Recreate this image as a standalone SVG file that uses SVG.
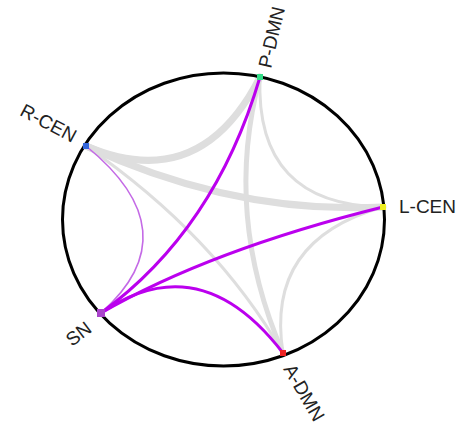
<svg xmlns="http://www.w3.org/2000/svg" width="462" height="432" viewBox="0 0 462 432">
<style>
.g{fill:none;stroke:#dedede;stroke-linecap:round}
.p{fill:none;stroke:#bb00ee;stroke-width:3;stroke-linecap:round}
.pt{fill:none;stroke:#c46ae6;stroke-width:1.6}
.lbl{font-family:"Liberation Sans",Arial,sans-serif;font-size:19px;fill:#222222}
</style>
<rect width="462" height="432" fill="#ffffff"/>
<g id="connectors">
<path class="g" stroke-width="7" d="M86,146 Q200,195 260,77"/>
<path class="g" stroke-width="7" d="M86,146 Q235,215 383,207"/>
<path class="g" stroke-width="3" d="M260,77 Q255,205 383,207"/>
<path class="g" stroke-width="5" d="M260,77 Q223,215 283,353"/>
<path class="g" stroke-width="3" d="M86,146 Q215,235 283,353"/>
<path class="g" stroke-width="3" d="M383,207 Q265,240 283,353"/>
<path class="pt" d="M101,313 Q192,232 86,146"/>
<path class="p" d="M101,313 Q215,230 260,77"/>
<path class="p" d="M101,313 Q210,250 383,207"/>
<path class="p" d="M101,313 Q200,245 283,353"/>
</g>
<ellipse cx="223.5" cy="219.5" rx="161" ry="146.5" fill="none" stroke="#000" stroke-width="3"/>
<g id="P-DMN">
<rect x="257" y="74" width="6" height="6" fill="#33dd88"/>
<text class="lbl" transform="translate(271,69) rotate(-77)">P-DMN</text>
</g>
<g id="R-CEN">
<rect x="83" y="143" width="6" height="6" fill="#3366dd"/>
<text class="lbl" text-anchor="end" transform="translate(72,143) rotate(28)">R-CEN</text>
</g>
<g id="L-CEN">
<rect x="380" y="204" width="6" height="6" fill="#eeee22"/>
<text class="lbl" x="399" y="213">L-CEN</text>
</g>
<g id="SN">
<rect x="97" y="309" width="8" height="8" fill="#aa44cc"/>
<text class="lbl" text-anchor="end" transform="translate(93,331) rotate(-37)">SN</text>
</g>
<g id="A-DMN">
<rect x="280" y="350" width="6" height="6" fill="#ee2222"/>
<text class="lbl" transform="translate(283,369) rotate(60)">A-DMN</text>
</g>
</svg>
